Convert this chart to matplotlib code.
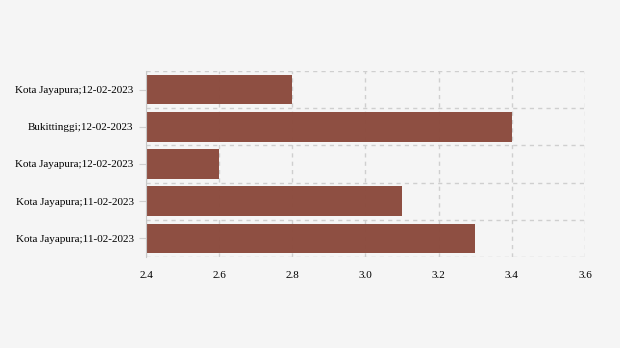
import numpy as np
import matplotlib.pyplot as plt

plt.rc('font', family='Liberation Serif', size=8)

labels = ['Kota Jayapura;11-02-2023', 'Kota Jayapura;11-02-2023', 'Kota Jayapura;12-02-2023',
          'Bukittinggi;12-02-2023', 'Kota Jayapura;12-02-2023']
values = [3.3, 3.1, 2.6, 3.4, 2.8]
xticks = [2.4, 2.6, 2.8, 3.0, 3.2, 3.4, 3.6]

fig = plt.figure(figsize=(6.2, 3.48), dpi=100, facecolor='#f5f5f5')
ax = fig.add_axes([0.2355, 0.2615, 0.708, 0.5345], facecolor='#f5f5f5')

y = np.arange(len(labels))
ax.barh(y, np.array(values) - 2.4, left=2.4, height=0.8, color='#8b4a3c', alpha=0.97, zorder=2)

ax.set_xlim(2.4, 3.6)
ax.set_ylim(-0.5, len(labels) - 0.5)
ax.set_xticks(xticks)
ax.set_xticklabels(['%.1f' % t for t in xticks])
ax.set_yticks(y)
ax.set_yticklabels(labels)

for v in xticks:
    ax.axvline(v, color='#cfcfcf', linestyle=(0, (3, 3)), linewidth=1, zorder=1)
for b in np.arange(-0.5, len(labels), 1):
    ax.axhline(b, color='#cfcfcf', linestyle=(0, (3, 3)), linewidth=1, zorder=1)

for s in ['top', 'right', 'bottom']:
    ax.spines[s].set_visible(False)
ax.spines['left'].set_color('#c8c8c8')
ax.tick_params(axis='y', length=5, color='#d0d0d0', pad=4)
ax.tick_params(axis='x', length=0, pad=10)

plt.savefig('out.png', dpi=100, facecolor='#f5f5f5')
